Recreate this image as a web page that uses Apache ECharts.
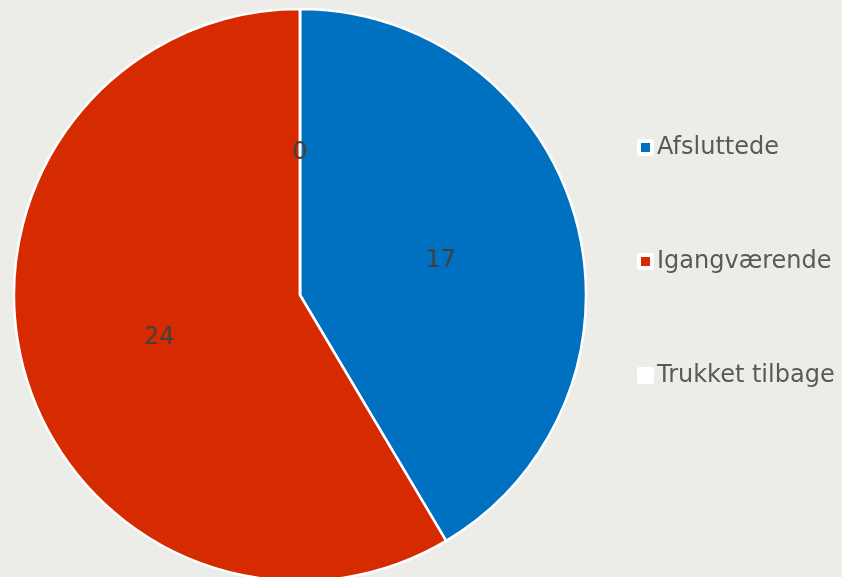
<!DOCTYPE html>
<html>
<head>
<meta charset="utf-8">
<script src="https://cdn.jsdelivr.net/npm/echarts@6/dist/echarts.min.js"></script>
<style>
  html, body { margin: 0; padding: 0; background: #ECECE8; }
  #chart { width: 842px; height: 577px; }
</style>
</head>
<body>
<div id="chart"></div>
<script>
  // kategorier og værdier
  var categories = ['Afsluttede', 'Igangværende', 'Trukket tilbage'];
  var values = [17, 24, 0];
  var colors = ['#0070C0', '#D62B00', '#FFFFFF'];

  var chart = echarts.init(document.getElementById('chart'));
  var data = categories.map(function (c, i) {
    return { name: c, value: values[i], itemStyle: { color: colors[i] } };
  });

  var option = {
    backgroundColor: '#ECECE8',
    animation: false,
    legend: {
      orient: 'vertical',
      left: 637,
      top: 134,
      padding: 0,
      itemWidth: 13,
      itemHeight: 13,
      itemGap: 87,
      icon: 'rect',
      itemStyle: { borderColor: '#FFFFFF', borderWidth: 4 },
      textStyle: {
        fontFamily: 'DejaVu Sans',
        fontSize: 24,
        color: '#595959',
        lineHeight: 27
      },
      data: categories
    },
    series: [
      {
        type: 'pie',
        center: [300, 295],
        radius: 286,
        startAngle: 90,
        clockwise: true,
        avoidLabelOverlap: false,
        label: {
          show: true,
          position: 'inner',
          formatter: '{v|{c}}',
          rich: {
            v: {
              fontFamily: 'DejaVu Sans',
              fontSize: 24,
              color: '#404040',
              padding: [8, 0, 0, 0]
            }
          }
        },
        labelLine: { show: false },
        itemStyle: { borderColor: '#FFFFFF', borderWidth: 2.5 },
        emphasis: { disabled: true },
        data: data
      }
    ]
  };
  chart.setOption(option);
</script>
</body>
</html>
